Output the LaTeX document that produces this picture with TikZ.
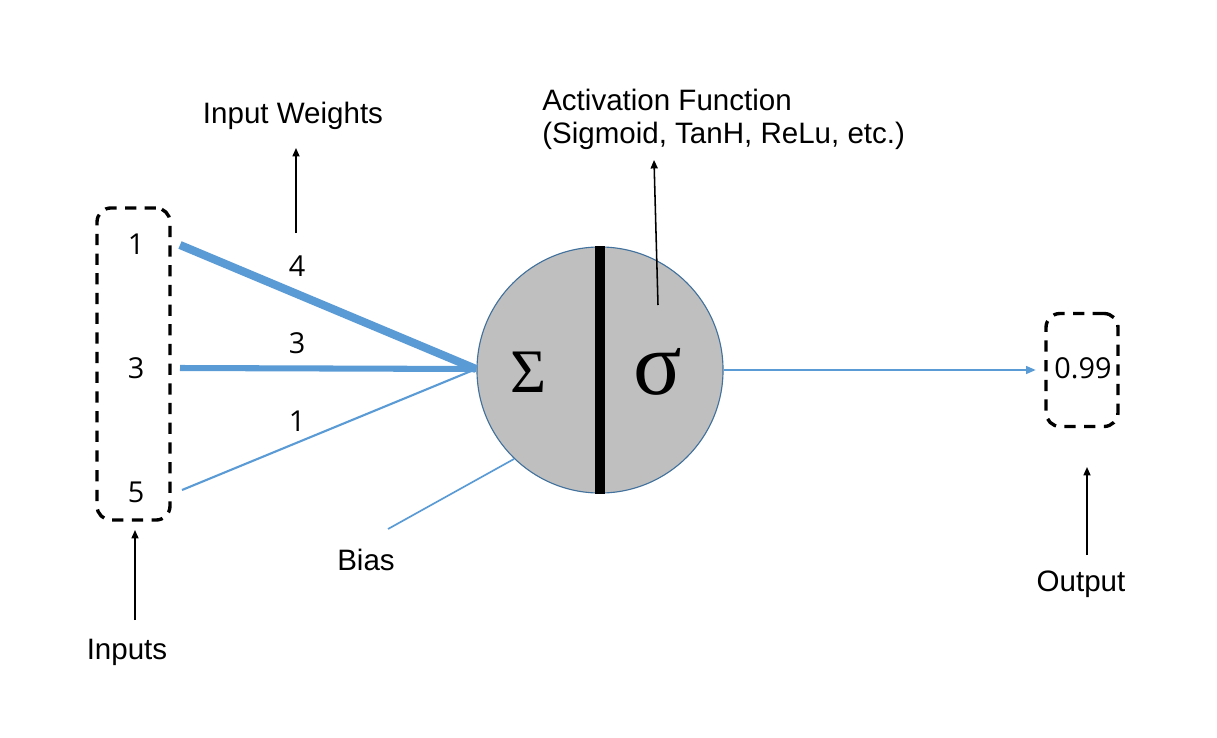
\documentclass[tikz,border=0pt]{standalone}
\usepackage{fontspec}
\setmainfont{Liberation Sans}
\newfontfamily\digitfont{Open Sans}
\newfontfamily\greekfont{Liberation Serif}
\usetikzlibrary{arrows.meta}
\definecolor{wblue}{HTML}{5B9BD5}
\definecolor{nfill}{HTML}{BFBFBF}
\definecolor{nedge}{HTML}{41719C}
\tikzset{
  dashbox/.style={draw=black, line width=2.4pt, dash pattern=on 8pt off 6pt, rounded corners=10pt, inner sep=0pt},
  lbl/.style={font=\fontsize{21}{23}\selectfont, inner sep=0pt},
  num/.style={font=\digitfont\fontsize{20.5}{23}\selectfont, inner sep=0pt},
  pointer/.style={draw=black, line width=1.1pt, -{Triangle[length=6pt,width=5pt]}},
  wline/.style={draw=wblue}
}
\begin{document}
\begin{tikzpicture}[x=0.025cm,y=-0.025cm]
\useasboundingbox (0,0) rectangle (1217,737);
% input box and values
\node[dashbox, minimum width=1.825cm, minimum height=7.8cm] (inbox) at (133.5,364) {};
\node[num] (in1) at (136,244) {1};
\node[num] (in3) at (136,368) {3};
\node[num] (in5) at (136,492) {5};
% neuron
\node[circle, draw=nedge, line width=0.8pt, fill=nfill, minimum size=6.15cm, inner sep=0pt] (neuron) at (600,370) {};
\draw[line width=7pt] (neuron.north) -- (neuron.south);
\node[font=\greekfont\fontsize{44}{44}\selectfont, inner sep=0pt] (sum) at (528,372) {Σ};
\node[font=\greekfont\fontsize{64}{64}\selectfont, inner sep=0pt] (act) at (658,372) {σ};
% weighted connections
\coordinate (s1) at (180,245);
\coordinate (s3) at (180,368);
\coordinate (s5) at (182,490);
\coordinate (hub) at (476,369);
\draw[wline, line width=5.8pt] (s1) -- (hub);
\draw[wline, line width=4.3pt] (s3) -- (hub);
\draw[wline, line width=1.5pt] (s5) -- (hub);
\node[num] (w4) at (297,266) {4};
\node[num] (w3) at (297,343) {3};
\node[num] (w1) at (297,421) {1};
% bias
\coordinate (b0) at (388,529);
\draw[wline, line width=1.2pt] (b0) -- (neuron.226);
\node[lbl] (bias) at (366,560) {Bias};
% output
\node[dashbox, minimum width=1.8cm, minimum height=2.825cm] (outbox) at (1082,370) {};
\node[num] (outval) at (1083,368) {0.99};
\draw[wline, line width=1.5pt, -{Triangle[length=7pt,width=5.5pt]}, shorten >=6pt] (neuron.east) -- (outbox.west);
% labels and pointers
\node[lbl] (iw) at (293,116) {Input Weights};
\coordinate (iwp) at (296,233);
\draw[pointer] (iwp) -- (296,148) coordinate (iwt);
\node[lbl, anchor=north west, align=left] (actlbl) at (542,89) {Activation Function\\(Sigmoid, TanH, ReLu, etc.)};
\coordinate (acp) at (658,305);
\draw[pointer] (acp) -- (654,160) coordinate (act);
\node[lbl] (inputs) at (127,652) {Inputs};
\coordinate (inp) at (135,620);
\draw[pointer] (inp) -- (135,530) coordinate (inpt);
\node[lbl] (output) at (1081,584) {Output};
\coordinate (outp) at (1087,555);
\draw[pointer] (outp) -- (1087,467) coordinate (outpt);
\end{tikzpicture}
\end{document}
